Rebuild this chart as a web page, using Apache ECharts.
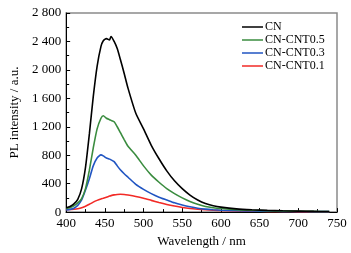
<!DOCTYPE html>
<html>
<head>
<meta charset="utf-8">
<script src="https://cdn.jsdelivr.net/npm/echarts@6/dist/echarts.min.js"></script>
<style>
  html, body { margin: 0; padding: 0; background: #fff; }
  #chart { width: 351px; height: 253px; }
</style>
</head>
<body>
<div id="chart"></div>
<script>
// wavelength (nm)
const wavelength = [400, 405, 410, 415, 420, 425, 430, 435, 440, 445, 448, 452, 456, 458, 462, 466, 470, 475, 480, 490, 500, 510, 520, 530, 540, 550, 560, 570, 580, 590, 600, 620, 640, 660, 680, 700, 720, 740]
const seriesNames = ['CN', 'CN-CNT0.5', 'CN-CNT0.3', 'CN-CNT0.1']
const cn = [60, 80, 115, 180, 330, 630, 1100, 1620, 2050, 2330, 2410, 2440, 2420, 2470, 2400, 2300, 2150, 1950, 1740, 1390, 1170, 940, 750, 580, 440, 330, 240, 170, 120, 90, 70, 45, 32, 24, 18, 14, 10, 8]
const cnt05 = [50, 65, 90, 130, 190, 330, 590, 900, 1170, 1320, 1355, 1320, 1300, 1290, 1270, 1200, 1120, 1020, 925, 800, 650, 520, 420, 330, 260, 200, 150, 110, 80, 62, 50, 34, 25, 19, 15, 12, 10, 8]
const cnt03 = [30, 38, 55, 95, 170, 310, 470, 650, 760, 805, 790, 760, 745, 735, 710, 650, 595, 540, 490, 390, 320, 260, 210, 170, 130, 100, 75, 55, 42, 33, 27, 20, 15, 12, 10, 8, 7, 6]
const cnt01 = [35, 36, 40, 47, 60, 83, 110, 140, 165, 185, 195, 210, 225, 232, 242, 248, 250, 248, 240, 220, 195, 165, 135, 108, 85, 65, 50, 40, 32, 26, 22, 16, 12, 10, 8, 7, 6, 5]
const colors = ['#000000', '#3a8c3f', '#2155c2', '#f22a26']

const font = 'Liberation Serif, Times New Roman, serif'

function pairs(vals) {
  return wavelength.map((w, i) => [w, vals[i]])
}

function fmt(v) {
  // thousands with a space, like "2 800"
  return String(v).replace(/\B(?=(\d{3})+(?!\d))/g, ' ')
}

const chart = echarts.init(document.getElementById('chart'))

chart.setOption({
  animation: false,
  color: colors,
  grid: {
    left: 60,
    top: 13,
    right: 14,
    bottom: 37,
    show: true,
    borderColor: '#8a8a8a',
    borderWidth: 1.5
  },
  legend: {
    orient: 'vertical',
    left: 237,
    top: 16,
    icon: 'rect',
    itemWidth: 21,
    itemHeight: 1.5,
    itemGap: 1,
    data: seriesNames,
    textStyle: {
      fontFamily: font,
      fontSize: 12,
      color: '#000',
      padding: [0, 0, 0, -3],
      lineHeight: 12
    }
  },
  xAxis: {
    type: 'value',
    min: 400,
    max: 750,
    interval: 50,
    name: 'Wavelength / nm',
    nameLocation: 'middle',
    nameGap: 20,
    nameTextStyle: { fontFamily: font, fontSize: 13, color: '#000' },
    axisLine: { lineStyle: { color: '#000', width: 1 } },
    axisTick: { inside: true, length: 4, lineStyle: { color: '#000' } },
    minorTick: { show: true, splitNumber: 2, length: 3, lineStyle: { color: '#000' } },
    axisLabel: { fontFamily: font, fontSize: 13, color: '#000', margin: 5 },
    splitLine: { show: false }
  },
  yAxis: {
    type: 'value',
    min: 0,
    max: 2800,
    interval: 400,
    name: 'PL intensity / a.u.',
    nameLocation: 'middle',
    nameGap: 40,
    nameTextStyle: { fontFamily: font, fontSize: 13, color: '#000' },
    axisLine: { show: true, lineStyle: { color: '#000', width: 1 } },
    axisTick: { show: true, inside: true, length: 4, lineStyle: { color: '#000' } },
    minorTick: { show: true, splitNumber: 2, length: 3, lineStyle: { color: '#000' } },
    axisLabel: { fontFamily: font, fontSize: 13, color: '#000', margin: 5, formatter: fmt },
    splitLine: { show: false }
  },
  series: [cn, cnt05, cnt03, cnt01].map((vals, i) => ({
    name: seriesNames[i],
    type: 'line',
    data: pairs(vals),
    showSymbol: false,
    smooth: 0.2,
    z: 10 - i,
    lineStyle: { width: 1.6, color: colors[i] },
    itemStyle: { color: colors[i] }
  }))
})
</script>
</body>
</html>
